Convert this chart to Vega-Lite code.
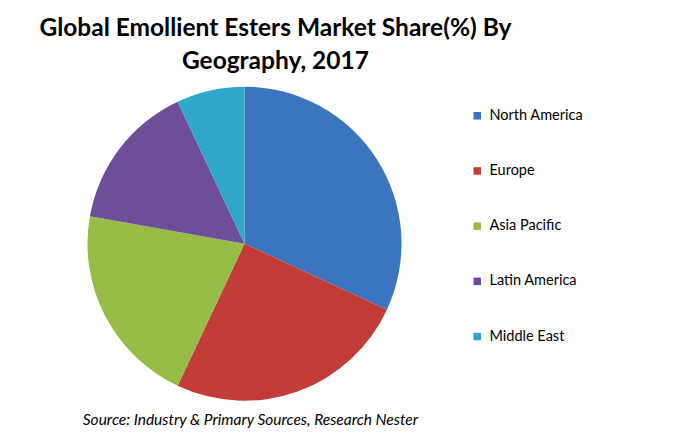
{
  "$schema": "https://vega.github.io/schema/vega-lite/v6.json",
  "autosize": "none",
  "padding": {"left": 87.5, "top": 86.7, "right": 272.5, "bottom": 41.3},
  "background": "white",
  "width": 314,
  "height": 314,
  "title": {
    "text": ["Global Emollient Esters Market Share(%) By", "Geography, 2017"],
    "orient": "top",
    "anchor": "start",
    "align": "center",
    "dx": 193.5,
    "offset": 12,
    "font": "Lato",
    "fontSize": 24.5,
    "fontWeight": "bold",
    "color": "#000000",
    "lineHeight": 33
  },
  "config": {"view": {"stroke": null}},
  "data": {
    "values": [
      {"region": "North America", "share": 31.9},
      {"region": "Europe", "share": 25.1},
      {"region": "Asia Pacific", "share": 20.8},
      {"region": "Latin America", "share": 15.2},
      {"region": "Middle East", "share": 7.0}
    ]
  },
  "layer": [
    {
      "mark": {"type": "arc", "stroke": null},
      "encoding": {
        "theta": {"field": "share", "type": "quantitative", "stack": true},
        "order": {"field": "share", "type": "quantitative", "sort": "descending"},
        "color": {
          "field": "region",
          "type": "nominal",
          "sort": ["North America", "Europe", "Asia Pacific", "Latin America", "Middle East"],
          "scale": {
            "domain": ["North America", "Europe", "Asia Pacific", "Latin America", "Middle East"],
            "range": ["#3B75C0", "#C23D38", "#97BD47", "#6E4D99", "#2FA7CA"]
          },
          "legend": {
            "orient": "none",
            "legendX": 382.5,
            "legendY": 21.8,
            "title": null,
            "padding": 0,
            "symbolType": "square",
            "symbolSize": 56,
            "symbolStrokeWidth": 0,
            "labelFont": "Lato",
            "labelFontSize": 14.5,
            "labelColor": "#000000",
            "labelOffset": 5,
            "rowPadding": 40.2
          }
        }
      }
    },
    {
      "mark": {"type": "rule", "opacity": 0},
      "encoding": {
        "x": {
          "datum": 0,
          "type": "quantitative",
          "axis": {
            "title": "Source: Industry & Primary Sources, Research Nester",
            "labels": false,
            "ticks": false,
            "domain": false,
            "grid": false,
            "titleFont": "Lato",
            "titleFontSize": 15.5,
            "titleFontStyle": "italic",
            "titleFontWeight": "normal",
            "titleColor": "#000000",
            "titleX": 162.4,
            "titleAlign": "center",
            "titlePadding": 11.5
          }
        }
      }
    }
  ]
}
